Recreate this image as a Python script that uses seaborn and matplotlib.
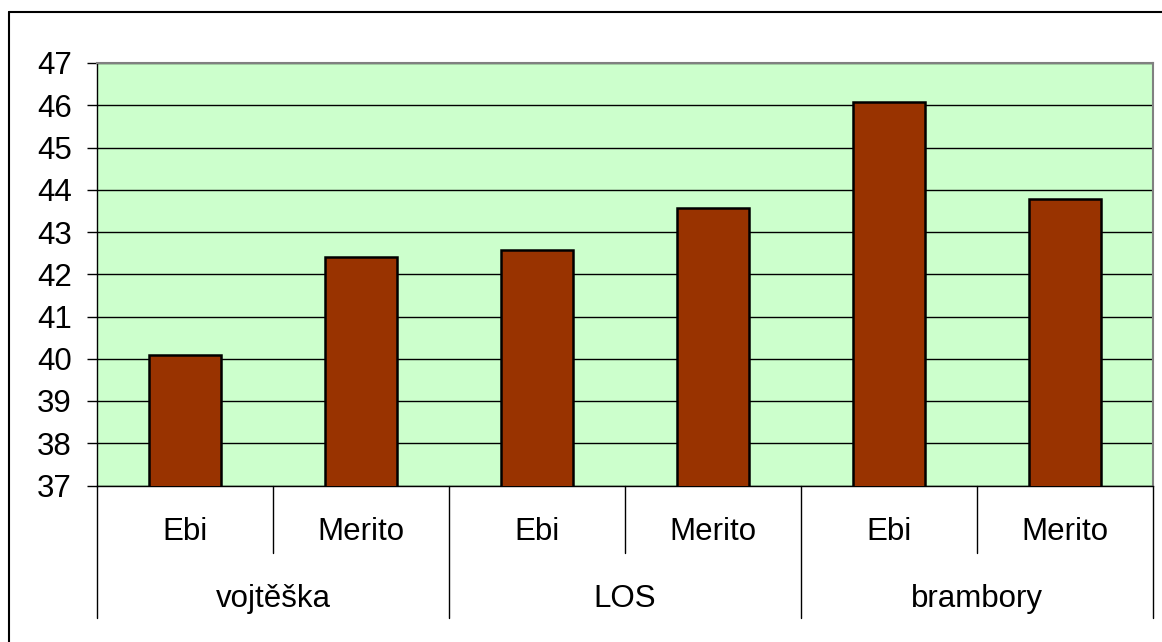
import matplotlib
matplotlib.use("Agg")
import matplotlib.pyplot as plt
import matplotlib.transforms as mtransforms
from matplotlib.lines import Line2D
import seaborn as sns
import pandas as pd

groups = ["vojtěška", "LOS", "brambory"]
varieties = ["Ebi", "Merito"]
values = [40.1, 42.4, 42.57, 43.56, 46.08, 43.78]
y_ticks = [37, 38, 39, 40, 41, 42, 43, 44, 45, 46, 47]

sns.set_theme(style="white")
plt.rcParams['font.family'] = ['Liberation Sans', 'DejaVu Sans']

keys = [f"{g}|{v}" for g in groups for v in varieties]
df = pd.DataFrame({"key": keys, "value": values})

fig = plt.figure(figsize=(11.62, 6.42), dpi=100)
ax = fig.add_axes([97/1162, 1-485.5/642, (1153-97)/1162, (485.5-63)/642])
ax.set_facecolor("#CCFFCC")

sns.barplot(data=df, x="key", y="value", order=keys, color="#993300",
            width=0.41, edgecolor="black", linewidth=1.8, saturation=1, ax=ax,
            zorder=3)

ax.set_ylim(37, 47)
ax.set_xlim(-0.5, len(keys) - 0.5)
ax.set_yticks(y_ticks)
ax.set_yticklabels([str(t) for t in y_ticks], fontsize=22.5, color="black")
ax.yaxis.grid(True, color="black", linewidth=1.0, zorder=1)
ax.set_axisbelow(True)
ax.set_xticks([])
ax.set_xlabel("")
ax.set_ylabel("")
ax.tick_params(axis="y", which="major", direction="out", length=7.5, width=1,
               color="black", left=True, pad=10.5, labelcolor="black")

for side in ["left", "bottom"]:
    ax.spines[side].set_color("black")
    ax.spines[side].set_linewidth(1.0)
for side in ["top", "right"]:
    ax.spines[side].set_color("#808080")
    ax.spines[side].set_linewidth(1.5)

trans = mtransforms.blended_transform_factory(ax.transData, ax.transAxes)
# sub-category labels
for i, k in enumerate(keys):
    ax.text(i, -0.109, k.split("|")[1], transform=trans, ha="center", va="center",
            fontsize=22.5, color="black")
# group labels
for gi, g in enumerate(groups):
    ax.text(gi * 2 + 0.5, -0.269, g, transform=trans, ha="center", va="center",
            fontsize=22.5, color="black")
# separators
for gi in range(len(groups)):
    ax.add_line(Line2D([gi * 2 + 0.5, gi * 2 + 0.5], [0, -0.16], transform=trans,
                       color="black", linewidth=1.0, clip_on=False))
for gi in range(len(groups) + 1):
    ax.add_line(Line2D([gi * 2 - 0.5, gi * 2 - 0.5], [0, -0.314], transform=trans,
                       color="black", linewidth=1.0, clip_on=False))

# outer chart border (left and top)
fig.add_artist(Line2D([9/1162, 9/1162], [0, 1-12/642], transform=fig.transFigure,
                      color="black", linewidth=1.5))
fig.add_artist(Line2D([9/1162, 1], [1-12/642, 1-12/642], transform=fig.transFigure,
                      color="black", linewidth=1.5))

fig.savefig("out.png", dpi=100)
